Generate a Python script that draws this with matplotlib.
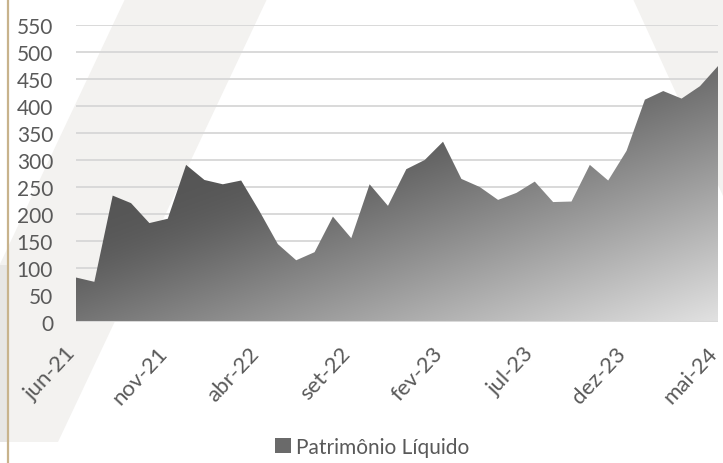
import matplotlib
matplotlib.use("Agg")
import matplotlib.pyplot as plt
import matplotlib.transforms as mtrans
import numpy as np
from matplotlib.patches import Polygon, Rectangle

plt.rcParams['font.family'] = ['Lato', 'DejaVu Sans']

months = ["jun-21", "jul-21", "ago-21", "set-21", "out-21", "nov-21", "dez-21",
          "jan-22", "fev-22", "mar-22", "abr-22", "mai-22", "jun-22", "jul-22",
          "ago-22", "set-22", "out-22", "nov-22", "dez-22", "jan-23", "fev-23",
          "mar-23", "abr-23", "mai-23", "jun-23", "jul-23", "ago-23", "set-23",
          "out-23", "nov-23", "dez-23", "jan-24", "fev-24", "mar-24", "abr-24",
          "mai-24"]
patrimonio = [82, 74, 234, 220, 183, 191, 291, 263, 255, 262, 205, 144, 114,
              129, 195, 155, 255, 215, 283, 300, 334, 265, 250, 226, 239, 260,
              222, 223, 291, 262, 317, 412, 428, 414, 437, 475]
yticks = list(range(0, 551, 50))
series_name = "Patrimônio Líquido"

W, H = 7.23, 4.64
fig = plt.figure(figsize=(W, H), dpi=100)
fig.patch.set_facecolor('white')

# background watermark shapes (figure pixel coords, origin top-left)
def fp(pts):
    return [(x / 723, 1 - y / 464) for x, y in pts]

fig.patches.append(Polygon(fp([(125, 0), (267, 0), (58, 443), (-84, 443)]),
                           closed=True, facecolor='#f3f2f0', edgecolor='none',
                           transform=fig.transFigure, zorder=-10))
fig.patches.append(Rectangle((0, 1 - 443 / 464), 7 / 723, (443 - 266) / 464,
                             facecolor='#e7e6e4', edgecolor='none',
                             transform=fig.transFigure, zorder=-9))
fig.patches.append(Polygon(fp([(633, 0), (723, 0), (723, 197)]), closed=True,
                           facecolor='#f3f2f0', edgecolor='none',
                           transform=fig.transFigure, zorder=-10))
fig.lines.append(plt.Line2D([7.5 / 723, 7.5 / 723], [0, 1], color='#c8b38c',
                            lw=1.6, transform=fig.transFigure, zorder=-8))

left_px, right_px, top_px, bot_px = 76, 718.3, 26.3, 322.7
ax = fig.add_axes([left_px / 723, 1 - bot_px / 464,
                   (right_px - left_px) / 723, (bot_px - top_px) / 464])
ax.patch.set_alpha(0)

x = np.arange(len(months))

poly = ax.fill_between(x, 0, patrimonio, facecolor='none', edgecolor='none',
                       zorder=3)

# gradient image clipped to the area
nx, ny = 400, 300
gx = np.linspace(0, len(months) - 1, nx)
gy = np.linspace(0, 550, ny)
GX, GY = np.meshgrid(gx, gy)
PX = left_px + GX / (len(months) - 1) * (right_px - left_px)
PY = bot_px - GY / 550 * (bot_px - top_px)
val = -47 + 0.17 * PX + 0.467 * PY
val = 85 + np.logaddexp(0, (val - 85) / 8) * 8
val = np.clip(val, 0, 235) / 255.0
img = np.dstack([val, val, val])
im = ax.imshow(img, extent=(0, len(months) - 1, 0, 550), origin='lower',
               aspect='auto', zorder=3, interpolation='bilinear')
im.set_clip_path(poly.get_paths()[0], transform=ax.transData)
ax.set_xlim(0, len(months) - 1)
ax.set_ylim(0, 550)

for yt in yticks[1:]:
    ax.axhline(yt, color='#d9d9d9', lw=1.4, zorder=2)
ax.axhline(0, color='#d9d9d9', lw=2.2, zorder=4)

for s in ax.spines.values():
    s.set_visible(False)

ax.set_yticks(yticks)
ax.set_yticklabels([str(v) for v in yticks], fontsize=15, color='#595959')
ax.tick_params(axis='y', length=0, pad=16.5)

tick_idx = list(range(0, len(months), 5))
ax.set_xticks(tick_idx)
ax.set_xticklabels([months[i] for i in tick_idx], fontsize=16, color='#595959',
                   rotation=47, ha='right', va='center', rotation_mode='anchor')
ax.tick_params(axis='x', length=0, pad=20)
shift = mtrans.ScaledTranslation(-4 / 100, 0, fig.dpi_scale_trans)
for lbl in ax.get_xticklabels():
    lbl.set_transform(lbl.get_transform() + shift)

handle = Rectangle((0, 0), 1, 1, facecolor='#6a6a6a', edgecolor='none')
leg = fig.legend([handle], [series_name], loc='center',
                 bbox_to_anchor=(372 / 723, 1 - 448 / 464), frameon=False,
                 fontsize=15, handlelength=0.75, handleheight=0.75,
                 handletextpad=0.25, labelcolor='#595959')

fig.savefig('out.png', dpi=100, facecolor='white')
